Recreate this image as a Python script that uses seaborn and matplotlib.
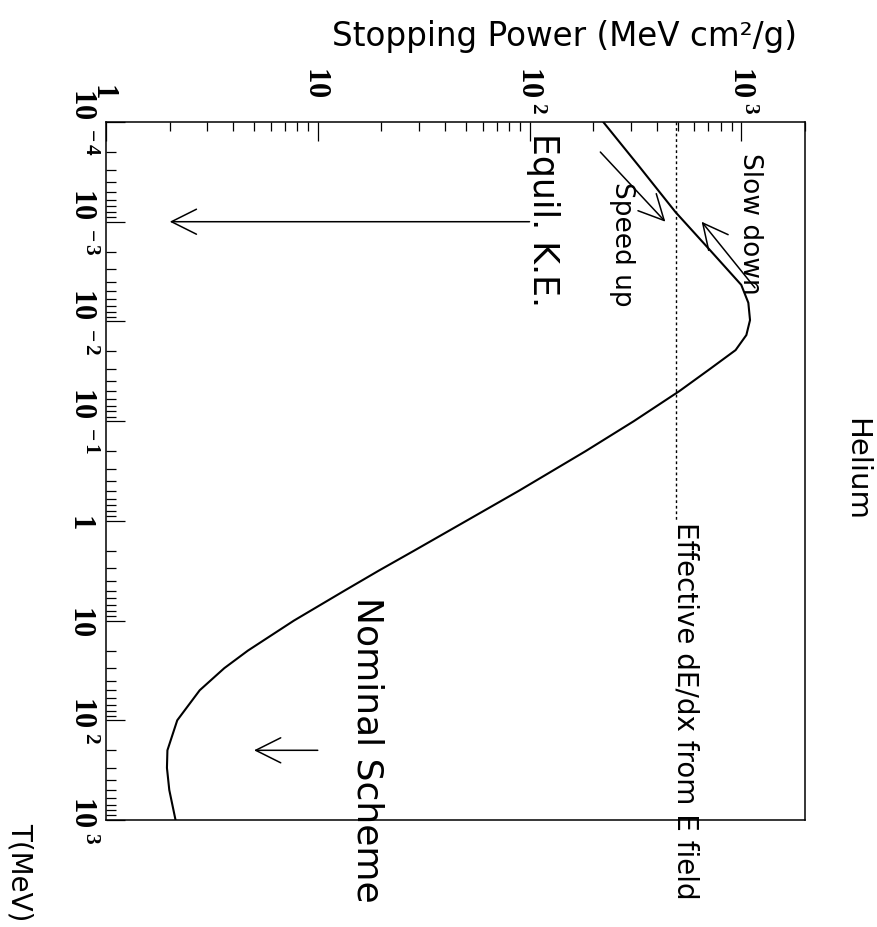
import matplotlib
matplotlib.use("Agg")
import matplotlib.pyplot as plt
from matplotlib.ticker import LogLocator, FixedLocator, NullFormatter
import numpy as np
import pandas as pd
import seaborn as sns

# ---------------- data ----------------
T_MeV = [1.0e-4, 2.8e-4, 8.0e-4, 1.84e-3, 4.3e-3, 6.5e-3, 9.7e-3, 1.37e-2,
         1.94e-2, 3.0e-2, 5.0e-2, 0.1, 0.2, 0.5, 1.0, 2.0, 3.16, 5.0,
         10.0, 20.0, 30.0, 50.0, 100.0, 200.0, 300.0, 500.0, 1000.0]
stopping_power = [223, 330, 489, 698, 1000, 1080, 1100, 1057,
                  940, 711, 510, 311, 184, 89, 50.3, 28.4, 19.4, 13.4,
                  7.72, 4.68, 3.62, 2.77, 2.17, 1.95, 1.94, 1.99, 2.13]

efield_S = 490.0                 # effective dE/dx from E field
efield_T = [1.0e-4, 1.0]

equil_T = [1.0e-3, 1.0e-3]       # "Equil. K.E." arrow
equil_S = [100.0, 2.0]
nominal_T = [200.0, 200.0]       # "Nominal Scheme" arrow
nominal_S = [10.0, 5.0]
speed_T = [2.0e-4, 1.0e-3]       # "Speed up" arrow
speed_S = [216.0, 438.0]
slow_T = [4.6e-3, 1.0e-3]        # "Slow down" arrow
slow_S = [1160.0, 650.0]

S_ticks = [1, 10, 100, 1000]
S_ticklabels = [r"$\ \ 1$", r"$10$", r"$10^{\ 2}$", r"$10^{\ 3}$"]
T_ticks = [1e-4, 1e-3, 1e-2, 1e-1, 1, 10, 100, 1000]
T_ticklabels = [r"$10^{\ -4}$", r"$10^{\ -3}$", r"$10^{\ -2}$", r"$10^{\ -1}$",
                r"$1$", r"$10$", r"$10^{\ 2}$", r"$10^{\ 3}$"]

# ---------------- style ----------------
sns.set_style("white")
plt.rcParams["font.family"] = ["DejaVu Sans"]
plt.rcParams["text.color"] = "black"
plt.rcParams["axes.labelcolor"] = "black"
plt.rcParams["xtick.color"] = "black"
plt.rcParams["ytick.color"] = "black"
plt.rcParams["mathtext.fontset"] = "custom"
plt.rcParams["mathtext.rm"] = "Liberation Serif:bold"
plt.rcParams["mathtext.it"] = "Liberation Serif:bold"
plt.rcParams["mathtext.bf"] = "Liberation Serif:bold"

fig = plt.figure(figsize=(8.78, 9.27), dpi=100)
ax = fig.add_axes([106/878, 1-820/927, 699/878, 698/927])
ax.set_xscale("log")
ax.set_yscale("log")

df = pd.DataFrame({"S": stopping_power, "T": T_MeV})
sns.lineplot(data=df, x="S", y="T", sort=False, estimator=None,
             color="black", lw=1.5, ax=ax)

# dotted effective dE/dx line
ax.plot([efield_S, efield_S], efield_T, color="black", lw=1.0,
        linestyle=(0, (2, 2)))

arrow_kw = dict(arrowstyle="->,head_length=0.9,head_width=0.45",
                color="black", lw=1.1, mutation_scale=20, shrinkA=0, shrinkB=0)
for Ss, Ts in [(equil_S, equil_T), (nominal_S, nominal_T),
               (speed_S, speed_T), (slow_S, slow_T)]:
    ax.annotate("", xy=(Ss[1], Ts[1]), xytext=(Ss[0], Ts[0]),
                arrowprops=arrow_kw)

ax.set_xlim(1, 2000)
ax.set_ylim(1000, 1e-4)

# ticks
ax.xaxis.set_major_locator(FixedLocator(S_ticks))
ax.xaxis.set_minor_locator(LogLocator(base=10, subs=np.arange(2, 10), numticks=30))
ax.xaxis.set_minor_formatter(NullFormatter())
ax.set_xticklabels(S_ticklabels)
ax.yaxis.set_major_locator(FixedLocator(T_ticks))
ax.yaxis.set_minor_locator(LogLocator(base=10, subs=np.arange(2, 10), numticks=30))
ax.yaxis.set_minor_formatter(NullFormatter())
ax.set_yticklabels(T_ticklabels)

ax.tick_params(axis="x", which="both", direction="in", top=True, bottom=False,
               labeltop=True, labelbottom=False, width=0.9, color="black")
ax.tick_params(axis="x", which="major", length=13.5, pad=40, labelsize=22)
ax.tick_params(axis="x", which="minor", length=6.8)
ax.tick_params(axis="y", which="both", direction="in", left=True, right=False,
               width=0.9, color="black")
ax.tick_params(axis="y", which="major", length=13.5, pad=6.5, labelsize=22)
ax.tick_params(axis="y", which="minor", length=7.2)

for lbl in ax.get_xticklabels():
    lbl.set_rotation(-90)
    lbl.set_rotation_mode("anchor")
    lbl.set_ha("left")
    lbl.set_va("center")
for lbl in ax.get_yticklabels():
    lbl.set_rotation(-90)
    lbl.set_ha("right")
    lbl.set_va("center")

for sp in ax.spines.values():
    sp.set_visible(True)
    sp.set_color("black")
    sp.set_linewidth(1.1)

# axis titles
ax.xaxis.set_label_position("top")
ax.set_xlabel("Stopping Power (MeV cm²/g)", fontsize=23.5, ha="right", va="bottom")
ax.xaxis.set_label_coords((797-106)/699, (820-53)/698)
ax.set_ylabel("T(MeV)", fontsize=20, rotation=-90, ha="center", va="center")
ax.yaxis.set_label_coords((20-106)/699, (820-872)/698)

# annotations (rotated like the rest of the chart)
def atext(px, py, s, size):
    ax.text((px-106)/699, (820-py)/698, s, transform=ax.transAxes,
            rotation=-90, rotation_mode="anchor", ha="left", va="center",
            fontsize=size, color="black", clip_on=False)

atext(686, 522, "Effective dE/dx from E field", 20)
atext(368, 597, "Nominal Scheme", 26)
atext(543, 133, "Equil. K.E.", 25)
atext(622, 182, "Speed up", 19)
atext(750, 153, "Slow down", 19)
atext(856, 418, "Helium", 21)

fig.savefig("out.png", dpi=100, facecolor="white")
